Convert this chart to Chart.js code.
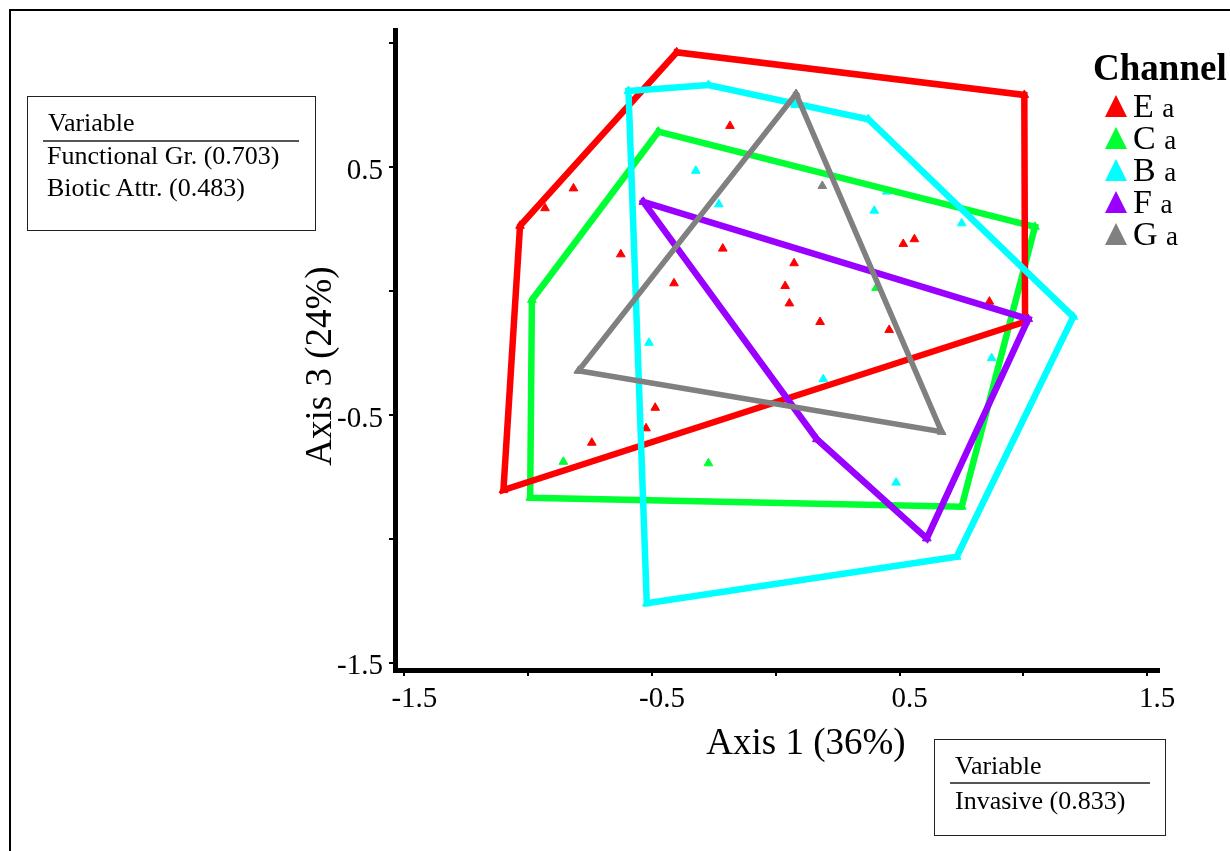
<!DOCTYPE html>
<html>
<head>
<meta charset="utf-8">
<script src="https://cdn.jsdelivr.net/npm/chart.js@4.4.0/dist/chart.umd.min.js"></script>
<style>
  html, body { margin: 0; padding: 0; background: #fff; overflow: hidden; }
  body { width: 1230px; height: 851px; position: relative; font-family: 'Liberation Serif', 'Times New Roman', serif; color: #000; }
  #frame { position: absolute; left: 9px; top: 9px; width: 1400px; height: 1000px; border: 2px solid #000; }
  #chart { position: absolute; left: 0; top: 0; }
  .box { position: absolute; border: 1px solid #222; }
  .txt { position: absolute; font-size: 26px; line-height: 26px; white-space: nowrap; }
  .rule { position: absolute; height: 0; border-top: 2px solid #555; }
  #legend { position: absolute; left: 1093px; top: 49px; white-space: nowrap; }
  #legend .head { font-weight: bold; font-size: 37px; line-height: 37px; height: 37px; margin-bottom: 4px; }
  #legend .row { font-size: 34px; line-height: 32px; height: 32px; padding-left: 12px; overflow: visible; }
  #legend .tri { display: inline-block; width: 0; height: 0; border-left: 11.5px solid transparent; border-right: 11.5px solid transparent; border-bottom: 22px solid; margin-right: 6px; }
  #legend .sub { font-size: 27px; line-height: 20px; }
</style>
</head>
<body>
<div id="frame"></div>
<canvas id="chart" width="1230" height="851"></canvas>

<div class="box" style="left:27px; top:96px; width:287px; height:133px;"></div>
<div class="txt" style="left:48px; top:110px;">Variable</div>
<div class="rule" style="left:43px; top:140px; width:256px;"></div>
<div class="txt" style="left:47px; top:143px;">Functional Gr. (0.703)</div>
<div class="txt" style="left:47px; top:175px;">Biotic Attr. (0.483)</div>

<div class="box" style="left:934px; top:739px; width:230px; height:95px;"></div>
<div class="txt" style="left:955px; top:753px;">Variable</div>
<div class="rule" style="left:950px; top:782px; width:200px;"></div>
<div class="txt" style="left:955px; top:788px;">Invasive (0.833)</div>

<div id="legend"><div class="head">Channel</div></div>

<script>
// Channels and their grouping letter (all "a")
const channels = ['E', 'C', 'B', 'F', 'G'];
const groupLetters = ['a', 'a', 'a', 'a', 'a'];

// Convex hull vertices per channel, [Axis 1, Axis 3]
const hullE = [[-0.400, 0.963], [1.004, 0.791], [1.007, -0.124], [-1.100, -0.803], [-1.033, 0.263]];
const hullC = [[-0.474, 0.643], [1.047, 0.259], [0.751, -0.870], [-0.992, -0.834], [-0.985, -0.036]];
const hullB = [[-0.595, 0.807], [-0.272, 0.831], [0.374, 0.693], [1.202, -0.104], [0.731, -1.072], [-0.521, -1.260]];
const hullF = [[-0.535, 0.360], [1.020, -0.113], [0.610, -0.998], [0.166, -0.598]];
const hullG = [[0.082, 0.795], [0.670, -0.568], [-0.797, -0.322]];

// Interior sample points per channel
const pointsE = [[-0.185, 0.666], [-0.817, 0.414], [-0.932, 0.334], [-0.214, 0.171], [-0.626, 0.148],
  [-0.411, 0.031], [0.515, 0.190], [0.560, 0.209], [0.074, 0.112], [0.038, 0.020], [0.055, -0.050],
  [0.179, -0.125], [0.458, -0.157], [0.863, -0.043], [-0.487, -0.471], [-0.524, -0.554], [-0.743, -0.612]];
const pointsC = [[0.405, 0.012], [-0.858, -0.689], [-0.272, -0.695]];
const pointsB = [[0.078, 0.750], [-0.323, 0.485], [-0.230, 0.350], [0.398, 0.324], [0.448, 0.401],
  [0.751, 0.273], [-0.512, -0.209], [0.872, -0.271], [0.192, -0.356], [0.486, -0.773]];
const pointsF = [];
const pointsG = [[0.188, 0.424]];

// Axis ticks
const xTicks = [-1.5, -1, -0.5, 0, 0.5, 1, 1.5];
const xTickLabels = ['-1.5', '', '-0.5', '', '0.5', '', '1.5'];
const yTicks = [-1.5, -1, -0.5, 0, 0.5, 1];
const yTickLabels = ['-1.5', '', '-0.5', '', '0.5', ''];
const xTitle = 'Axis 1 (36%)';
const yTitle = 'Axis 3 (24%)';

const colors = ['#ff0000', '#00ff33', '#00ffff', '#9900ff', '#808080'];
const lineOrder = [4, 5, 3, 2, 1];   // gray on top, green at the bottom
const lineWidths = [6.5, 6.5, 6.5, 6.5, 5.5];

const hulls = [hullE, hullC, hullB, hullF, hullG];
const points = [pointsE, pointsC, pointsB, pointsF, pointsG];
const toXY = arr => arr.map(([x, y]) => ({ x, y }));

// legend
const legend = document.getElementById('legend');
channels.forEach((ch, i) => {
    const row = document.createElement('div');
    row.className = 'row';
    row.innerHTML = '<span class="tri" style="border-bottom-color:' + colors[i] + '"></span>' +
        ch + ' <span class="sub">' + groupLetters[i] + '</span>';
    legend.appendChild(row);
});

const datasets = [];
channels.forEach((ch, i) => {
    datasets.push({
        label: ch + ' points',
        data: toXY(points[i].concat(hulls[i])),
        showLine: false,
        pointStyle: 'triangle',
        pointRadius: 5,
        pointBorderWidth: 1,
        pointBackgroundColor: colors[i],
        pointBorderColor: colors[i],
        order: 10
    });
    datasets.push({
        label: ch,
        data: toXY(hulls[i].concat([hulls[i][0]])),
        showLine: true,
        fill: false,
        tension: 0,
        pointRadius: 0,
        borderColor: colors[i],
        borderWidth: lineWidths[i],
        borderJoinStyle: 'miter',
        borderCapStyle: 'square',
        order: lineOrder[i]
    });
});

// axis titles placed like the original figure
const axisTitles = {
    id: 'axisTitles',
    afterDraw(chart) {
        const { ctx, chartArea } = chart;
        ctx.save();
        ctx.fillStyle = '#000';
        ctx.font = '37px "Liberation Serif"';
        ctx.textAlign = 'center';
        ctx.textBaseline = 'alphabetic';
        ctx.fillText(xTitle, chartArea.left + 411, chartArea.bottom + 84);
        ctx.translate(chartArea.left - 64, chartArea.top + 336);
        ctx.rotate(-Math.PI / 2);
        ctx.fillText(yTitle, 0, 0);
        ctx.restore();
    }
};

const tickFont = { family: 'Liberation Serif', size: 29 };

new Chart(document.getElementById('chart').getContext('2d'), {
    type: 'scatter',
    data: { datasets },
    options: {
        responsive: false,
        animation: false,
        layout: { padding: { left: 295, right: 71, top: 30, bottom: 81 } },
        plugins: { legend: { display: false }, tooltip: { enabled: false } },
        scales: {
            x: {
                type: 'linear',
                min: -1.538,
                max: 1.548,
                afterFit: s => { s.height = 100; },
                afterBuildTicks: s => { s.ticks = xTicks.map(v => ({ value: v })); },
                border: { display: true, color: '#000', width: 5 },
                grid: { display: true, drawOnChartArea: false, drawTicks: true, tickLength: 6, color: '#000', lineWidth: 2 },
                ticks: {
                    color: '#000',
                    font: tickFont,
                    padding: 6,
                    labelOffset: 10,
                    maxRotation: 0,
                    autoSkip: false,
                    callback: (v, i) => xTickLabels[i]
                }
            },
            y: {
                type: 'linear',
                min: -1.529,
                max: 1.053,
                afterFit: s => { s.width = 100; },
                afterBuildTicks: s => { s.ticks = yTicks.map(v => ({ value: v })); },
                border: { display: true, color: '#000', width: 5 },
                grid: { display: true, drawOnChartArea: false, drawTicks: true, tickLength: 6, color: '#000', lineWidth: 2 },
                ticks: {
                    color: '#000',
                    font: tickFont,
                    padding: 6,
                    labelOffset: 4,
                    autoSkip: false,
                    callback: (v, i) => yTickLabels[i]
                }
            }
        }
    },
    plugins: [axisTitles]
});
</script>
</body>
</html>
